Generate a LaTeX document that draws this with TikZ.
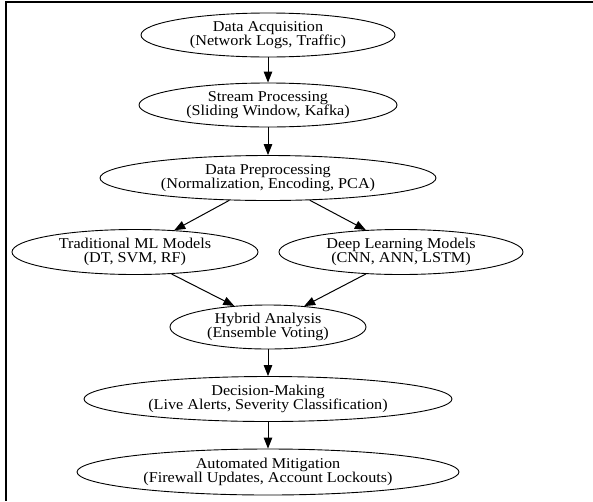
\documentclass[tikz,border=0pt]{standalone}
\usepackage{fontspec}
\setmainfont{Liberation Serif}[FakeStretch=1.08]
\usetikzlibrary{shapes.geometric,arrows.meta}
\begin{document}
\begin{tikzpicture}[x=1pt,y=-1pt,
  stage/.style={ellipse, draw=black, line width=0.9pt, inner sep=0pt, align=center,
    font=\fontsize{15}{14}\selectfont},
  flow/.style={draw=black, line width=1pt, -{Triangle[length=11pt,width=8.5pt]}}]
\useasboundingbox (0,0) rectangle (593,501);
\fill[white] (0,0) rectangle (593,501);
\draw[line width=2pt] (5,2) -- (593,2);
\draw[line width=2pt] (6,2) -- (6,501);

\node[stage, minimum width=254pt, minimum height=44pt] (da) at (268,35) {Data Acquisition\\(Network Logs, Traffic)};
\node[stage, minimum width=258pt, minimum height=44pt] (sp) at (268,105) {Stream Processing\\(Sliding Window, Kafka)};
\node[stage, minimum width=336pt, minimum height=45pt] (dp) at (268,178) {Data Preprocessing\\(Normalization, Encoding, PCA)};
\node[stage, minimum width=246pt, minimum height=45pt] (trad) at (135,252) {Traditional ML Models\\(DT, SVM, RF)};
\node[stage, minimum width=244pt, minimum height=45pt] (deep) at (401,252) {Deep Learning Models\\(CNN, ANN, LSTM)};
\node[stage, minimum width=196pt, minimum height=44pt] (hyb) at (268,327) {Hybrid Analysis\\(Ensemble Voting)};
\node[stage, minimum width=368pt, minimum height=45pt] (dec) at (268,399) {Decision-Making\\(Live Alerts, Severity Classification)};
\node[stage, minimum width=382pt, minimum height=46pt] (auto) at (268,472) {Automated Mitigation\\(Firewall Updates, Account Lockouts)};

\draw[flow] (da.south) -- (sp.north);
\draw[flow] (sp.south) -- (dp.north);
\draw[flow] (dp.210) -- (trad.29.4);
\draw[flow] (dp.-28.8) -- (deep.148.6);
\draw[flow] (trad.-31) -- (hyb.148.6);
\draw[flow] (deep.212.6) -- (hyb.30.7);
\draw[flow] (hyb.south) -- (dec.north);
\draw[flow] (dec.south) -- (auto.north);
\end{tikzpicture}
\end{document}
